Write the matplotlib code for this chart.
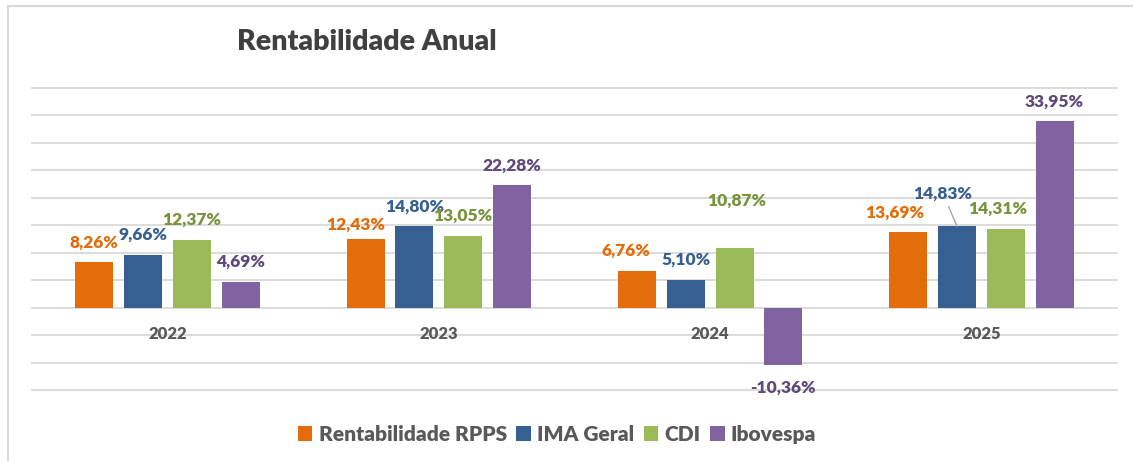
import numpy as np
import matplotlib.pyplot as plt
from matplotlib.patches import Rectangle, Patch

# data
years = ['2022', '2023', '2024', '2025']
series_names = ['Rentabilidade RPPS', 'IMA Geral', 'CDI', 'Ibovespa']
rpps = [8.26, 12.43, 6.76, 13.69]
ima_geral = [9.66, 14.80, 5.10, 14.83]
cdi = [12.37, 13.05, 10.87, 14.31]
ibovespa = [4.69, 22.28, -10.36, 33.95]

bar_colors = ['#E46C0A', '#376092', '#9BBB59', '#8064A2']
label_colors = ['#E46C0A', '#376092', '#77933C', '#604A7B']

# manual label nudges (pixels), like the hand-moved labels in the original
nudges = {(0, 1): (-10, -5), (0, 2): (-11, 0), (2, 2): (2, 27),
          (0, 3): (-13, 0), (1, 3): (-14, 13), (2, 3): (-8, 0)}

plt.rcParams['font.family'] = ['Lato', 'DejaVu Sans']
W = 'heavy'

fig = plt.figure(figsize=(11.33, 4.61), dpi=100)
ax = fig.add_axes([32 / 1133, 1 - 390 / 461, (1117 - 32) / 1133, (390 - 88) / 461])

# light frame around the chart area
fig.patches.append(Rectangle((8 / 1133, -0.1), 1.2, 1 - 6 / 461 + 0.1, transform=fig.transFigure,
                             fill=False, edgecolor='#D9D9D9', linewidth=1.5))

x = np.arange(len(years))
width = 0.14
step = 0.18
all_series = [rpps, ima_geral, cdi, ibovespa]

for k, vals in enumerate(all_series):
    pos = x + (k - 1.5) * step
    ax.bar(pos, vals, width=width, color=bar_colors[k], zorder=3)
    for i, v in enumerate(vals):
        dx, dy = nudges.get((k, i), (0, 0))
        off = 20 if v >= 0 else -23
        arrow = None
        if (k, i) == (1, 3):
            arrow = dict(arrowstyle='-', color='#A6A6A6', lw=1, shrinkA=2, shrinkB=0)
        ax.annotate(f'{v:.2f}%'.replace('.', ','), xy=(pos[i], v),
                    xytext=(dx, off + dy), textcoords='offset pixels',
                    ha='center', va='center', fontsize=12.5, fontweight=W,
                    color=label_colors[k], arrowprops=arrow, zorder=4)

ax.set_xlim(-0.5, 3.5)
ax.set_ylim(-15, 40)
ax.set_yticks(np.arange(-15, 41, 5))
ax.yaxis.grid(True, color='#D9D9D9', linewidth=1.3, zorder=0)
for gl in ax.get_ygridlines():
    gl.set_clip_on(False)
ax.tick_params(axis='y', left=False, labelleft=False)
ax.tick_params(axis='x', bottom=False, labelbottom=False)
for s in ax.spines.values():
    s.set_visible(False)

for i, yr in enumerate(years):
    ax.annotate(yr, xy=(x[i], 0), xytext=(0, -26), textcoords='offset pixels',
                ha='center', va='center', fontsize=12, fontweight=W, color='#595959')

fig.text(367 / 1133, 1 - 42 / 461, 'Rentabilidade Anual', ha='center', va='center',
         fontsize=20.5, fontweight=W, color='#404040')

handles = [Patch(facecolor=c) for c in bar_colors]
leg = fig.legend(handles, series_names, loc='center', bbox_to_anchor=(557 / 1133, 1 - 434 / 461),
                 ncol=4, frameon=False, handlelength=0.7, handleheight=0.7,
                 handletextpad=0.3, columnspacing=0.45, prop={'size': 15, 'weight': W})
for t in leg.get_texts():
    t.set_color('#595959')

fig.savefig('out.png', dpi=100)
